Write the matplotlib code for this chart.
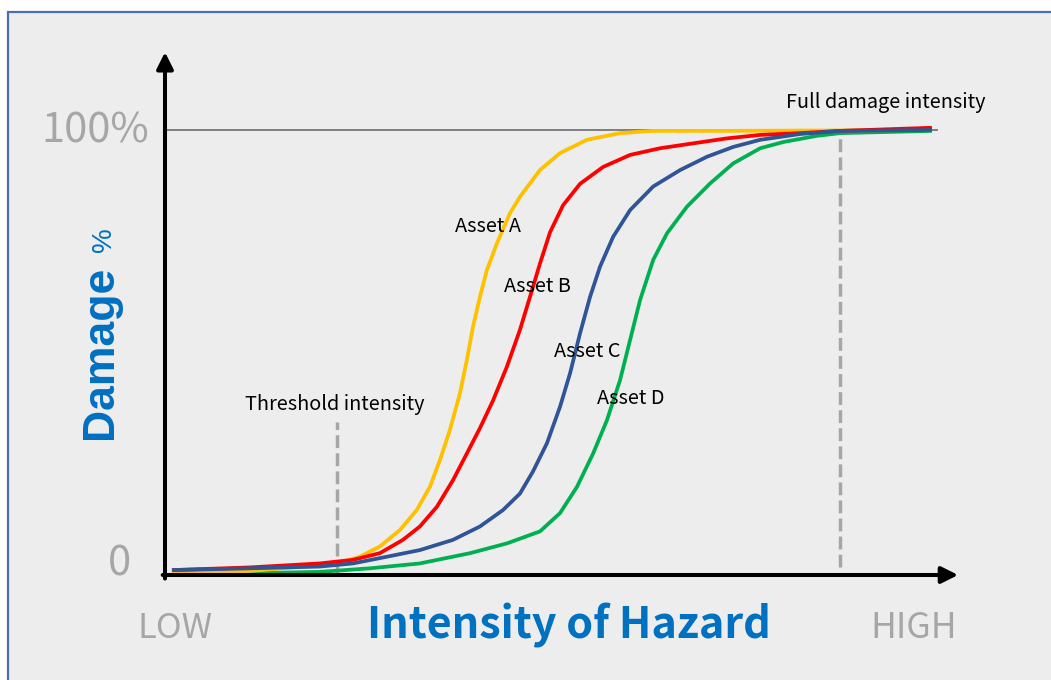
import matplotlib
matplotlib.use("Agg")
import matplotlib.pyplot as plt
from matplotlib.patches import Rectangle

plt.rcParams['font.family'] = ['Noto Sans CJK SC', 'DejaVu Sans']

# ---- data (intensity 0-100, damage % 0-100) ----
asset_a_x = [0.9, 11.0, 20.1, 22.3, 25.3, 27.9, 30.5, 32.7, 34.4, 35.7, 37.0, 38.3, 39.2, 40.0,
             40.9, 41.8, 43.1, 44.8, 46.1, 48.7, 51.3, 54.8, 59.1, 63.4, 72.1, 87.7, 99.6]
asset_a_y = [0.4, 0.9, 2.2, 2.6, 4.1, 6.4, 10.1, 14.6, 19.8, 25.8, 32.6, 40.8, 48.3, 55.8,
             62.5, 68.5, 74.5, 81.3, 85.0, 91.0, 94.8, 97.8, 99.3, 99.8, 99.8, 99.9, 100.0]

asset_b_x = [0.9, 11.0, 20.1, 24.4, 27.9, 30.9, 33.1, 35.3, 37.4, 39.2, 40.9, 42.6, 44.4, 46.1,
             47.4, 48.7, 50.0, 51.7, 53.9, 56.9, 60.4, 64.3, 68.6, 72.9, 77.3, 82.5, 87.7, 99.6]
asset_b_y = [1.1, 1.7, 2.6, 3.4, 4.9, 7.9, 10.9, 15.3, 21.3, 27.3, 33.0, 39.2, 46.8, 55.1,
             62.5, 70.0, 77.0, 83.1, 87.9, 91.7, 94.4, 95.9, 97.0, 98.1, 98.9, 99.3, 99.8, 100.5]

asset_c_x = [0.9, 11.0, 20.1, 24.4, 28.8, 33.1, 37.4, 40.9, 43.9, 46.1, 47.8, 49.6, 51.3, 52.6,
             53.9, 55.2, 56.5, 58.2, 60.4, 63.4, 66.9, 70.4, 73.8, 77.3, 82.5, 87.7, 99.6]
asset_c_y = [1.1, 1.5, 1.9, 2.6, 4.1, 5.6, 7.9, 10.9, 14.6, 18.3, 23.3, 29.6, 37.8, 45.3,
             54.3, 62.5, 69.3, 76.0, 82.0, 87.3, 91.0, 94.0, 96.2, 97.8, 99.1, 99.8, 100.0]

asset_d_x = [0.9, 11.0, 20.1, 26.6, 33.1, 39.6, 44.4, 48.7, 51.3, 53.5, 55.6, 57.4, 59.1, 60.4,
             61.7, 63.4, 65.2, 67.8, 70.8, 73.8, 77.3, 80.3, 84.7, 87.7, 99.6]
asset_d_y = [0.3, 0.4, 0.7, 1.5, 2.6, 4.9, 7.1, 9.8, 13.9, 19.8, 27.3, 34.8, 43.8, 52.8,
             61.8, 70.8, 76.8, 82.8, 88.0, 92.5, 95.9, 97.3, 98.7, 99.3, 99.8]

asset_names = ["Asset A", "Asset B", "Asset C", "Asset D"]
asset_label_x = [41.9, 48.4, 54.9, 60.5]
asset_label_y = [78.4, 64.9, 50.3, 39.6]

threshold_x = 22.3
threshold_top = 34.4
full_damage_x = 87.7
full_damage_bottom = 1.8

W, H = 1051, 680
fig = plt.figure(figsize=(W / 100, H / 100), dpi=100, facecolor='white')

# background panel with blue border
bg = Rectangle((7.5 / W, -0.05), 1.1, 1 - 12 / H + 0.05, transform=fig.transFigure,
               facecolor='#ededed', edgecolor='#4a6fb0', linewidth=1.6, zorder=-10)
fig.patches.append(bg)

ax = fig.add_axes([165 / W, (H - 575) / H, 770 / W, 445 / H])
ax.set_zorder(5)
ax.set_xlim(0, 100)
ax.set_ylim(0, 100)
ax.axis('off')
ax.patch.set_alpha(0)

# 100% reference line
ax.plot([0, 100.3], [100, 100], color='#7f7f7f', lw=1.4, zorder=1, clip_on=False)

# dashed markers
dash = (0, (3.7, 1.5))
ax.plot([threshold_x, threshold_x], [0.2, threshold_top], color='#a6a6a6', lw=2.5,
        ls=dash, zorder=1, clip_on=False)
ax.plot([full_damage_x, full_damage_x], [full_damage_bottom, 100], color='#a6a6a6', lw=2.5,
        ls=dash, zorder=1, clip_on=False)

lw = 2.7
style = dict(lw=lw, clip_on=False, solid_joinstyle='round', solid_capstyle='butt')
ax.plot(asset_d_x, asset_d_y, color='#00b050', zorder=2, **style)
ax.plot(asset_a_x, asset_a_y, color='#ffc000', zorder=3, **style)
ax.plot(asset_b_x, asset_b_y, color='#ff0000', zorder=4, **style)
ax.plot(asset_c_x, asset_c_y, color='#2f5597', zorder=5, **style)

# axes arrows
arrow_kw = dict(arrowstyle='-|>,head_length=1.0,head_width=0.5', lw=2.9, color='black',
                mutation_scale=10, shrinkA=0, shrinkB=0)
ax.annotate('', xy=(0, 117.5), xytext=(0, -0.8), xycoords='data',
            arrowprops=arrow_kw, annotation_clip=False, zorder=6)
ax.annotate('', xy=(103.0, 0), xytext=(-0.3, 0), xycoords='data',
            arrowprops=arrow_kw, annotation_clip=False, zorder=6)

# curve labels
for name, lx, ly in zip(asset_names, asset_label_x, asset_label_y):
    ax.text(lx, ly, name, ha='center', va='center', fontsize=14.3, color='black', zorder=7)

ax.text(22.1, 38.4, "Threshold intensity", ha='center', va='center', fontsize=14.3,
        color='black')
ax.text(93.6, 106.1, "Full damage intensity", ha='center', va='center', fontsize=14.3,
        color='black', clip_on=False)

# axis annotations (figure pixel positions)
def fx(px):
    return px / W

def fy(py):
    return 1 - py / H

grey = '#a6a6a6'
blue = '#0070c0'
fig.text(fx(149), fy(131), "100%", ha='right', va='center', fontsize=30, color=grey)
fig.text(fx(131), fy(564), "0", ha='right', va='center', fontsize=30, color=grey)
fig.text(fx(175), fy(628), "LOW", ha='center', va='center', fontsize=25, color=grey)
fig.text(fx(914), fy(628), "HIGH", ha='center', va='center', fontsize=25.5, color=grey)
fig.text(fx(569), fy(625), "Intensity of Hazard", ha='center', va='center', fontsize=31,
         color=blue, fontweight='bold')
fig.text(fx(100), fy(352), "Damage", ha='center', va='center', rotation=90, fontsize=32,
         color=blue, fontweight='bold', fontfamily='Liberation Sans')
fig.text(fx(104), fy(240), "%", ha='center', va='center', rotation=90, fontsize=20,
         color=blue, fontfamily='Liberation Sans')

fig.savefig('out.png', dpi=100, facecolor='white')
